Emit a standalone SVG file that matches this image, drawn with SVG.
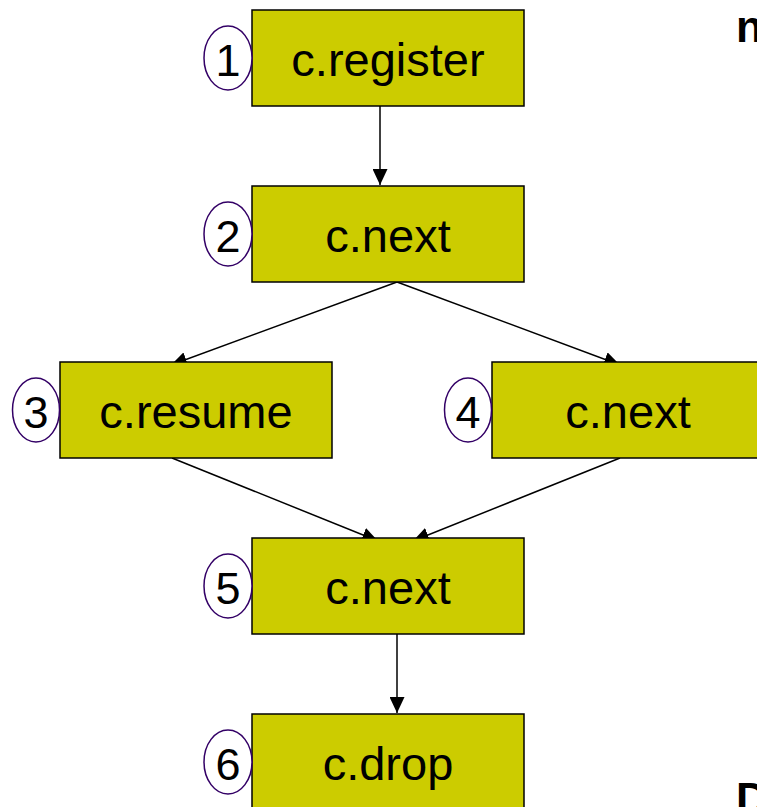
<svg xmlns="http://www.w3.org/2000/svg" width="757" height="807" viewBox="0 0 757 807">
<defs>
<style>
.box{fill:#CCCC00;stroke:#000;stroke-width:1.5}
.num{fill:#fff;stroke:#330066;stroke-width:1.5}
.lbl{font-family:"Liberation Sans",Arial,sans-serif;font-size:47px;fill:#000;text-anchor:middle}
.dig{font-family:"Liberation Sans",Arial,sans-serif;font-size:45px;fill:#000;text-anchor:middle}
.side{font-family:"Liberation Sans",Arial,sans-serif;font-size:44px;font-weight:bold;fill:#000}
.conn{stroke:#000;stroke-width:1.5;fill:none;marker-end:url(#ah)}
</style>
<marker id="ah" markerUnits="userSpaceOnUse" markerWidth="16" markerHeight="15" refX="16" refY="7.5" orient="auto" viewBox="0 0 16 15">
<path d="M0,0 L16,7.5 L0,15 z" fill="#000"/>
</marker>
</defs>
<rect width="757" height="807" fill="#fff"/>
<g id="connectors">
<line class="conn" x1="380" y1="106" x2="380" y2="185"/>
<line class="conn" x1="397" y1="282" x2="171" y2="365"/>
<line class="conn" x1="397" y1="282" x2="620" y2="365"/>
<line class="conn" x1="172" y1="458" x2="378" y2="541"/>
<line class="conn" x1="620" y1="458" x2="413" y2="541"/>
<line class="conn" x1="397" y1="634" x2="397" y2="713"/>
</g>
<g id="node1">
<rect class="box" x="252" y="10" width="272" height="96"/>
<text class="lbl" x="388" y="76">c.register</text>
<ellipse class="num" cx="228" cy="58" rx="24" ry="32"/>
<text class="dig" x="228" y="76">1</text>
</g>
<g id="node2">
<rect class="box" x="252" y="186" width="272" height="96"/>
<text class="lbl" x="388" y="252">c.next</text>
<ellipse class="num" cx="228" cy="234" rx="24" ry="32"/>
<text class="dig" x="228" y="252">2</text>
</g>
<g id="node3">
<rect class="box" x="60" y="362" width="272" height="96"/>
<text class="lbl" x="196" y="428">c.resume</text>
<ellipse class="num" cx="36" cy="410" rx="23.5" ry="32"/>
<text class="dig" x="36" y="428">3</text>
</g>
<g id="node4">
<rect class="box" x="492" y="362" width="272" height="96"/>
<text class="lbl" x="628" y="428">c.next</text>
<ellipse class="num" cx="468" cy="410" rx="23.5" ry="32"/>
<text class="dig" x="468" y="428">4</text>
</g>
<g id="node5">
<rect class="box" x="252" y="538" width="272" height="96"/>
<text class="lbl" x="388" y="604">c.next</text>
<ellipse class="num" cx="228" cy="586" rx="24" ry="32"/>
<text class="dig" x="228" y="604">5</text>
</g>
<g id="node6">
<rect class="box" x="252" y="714" width="272" height="96"/>
<text class="lbl" x="388" y="780">c.drop</text>
<ellipse class="num" cx="228" cy="762" rx="24" ry="32"/>
<text class="dig" x="228" y="780">6</text>
</g>
<text class="side" x="736" y="42">n</text>
<text class="side" x="736" y="814">D</text>
</svg>
